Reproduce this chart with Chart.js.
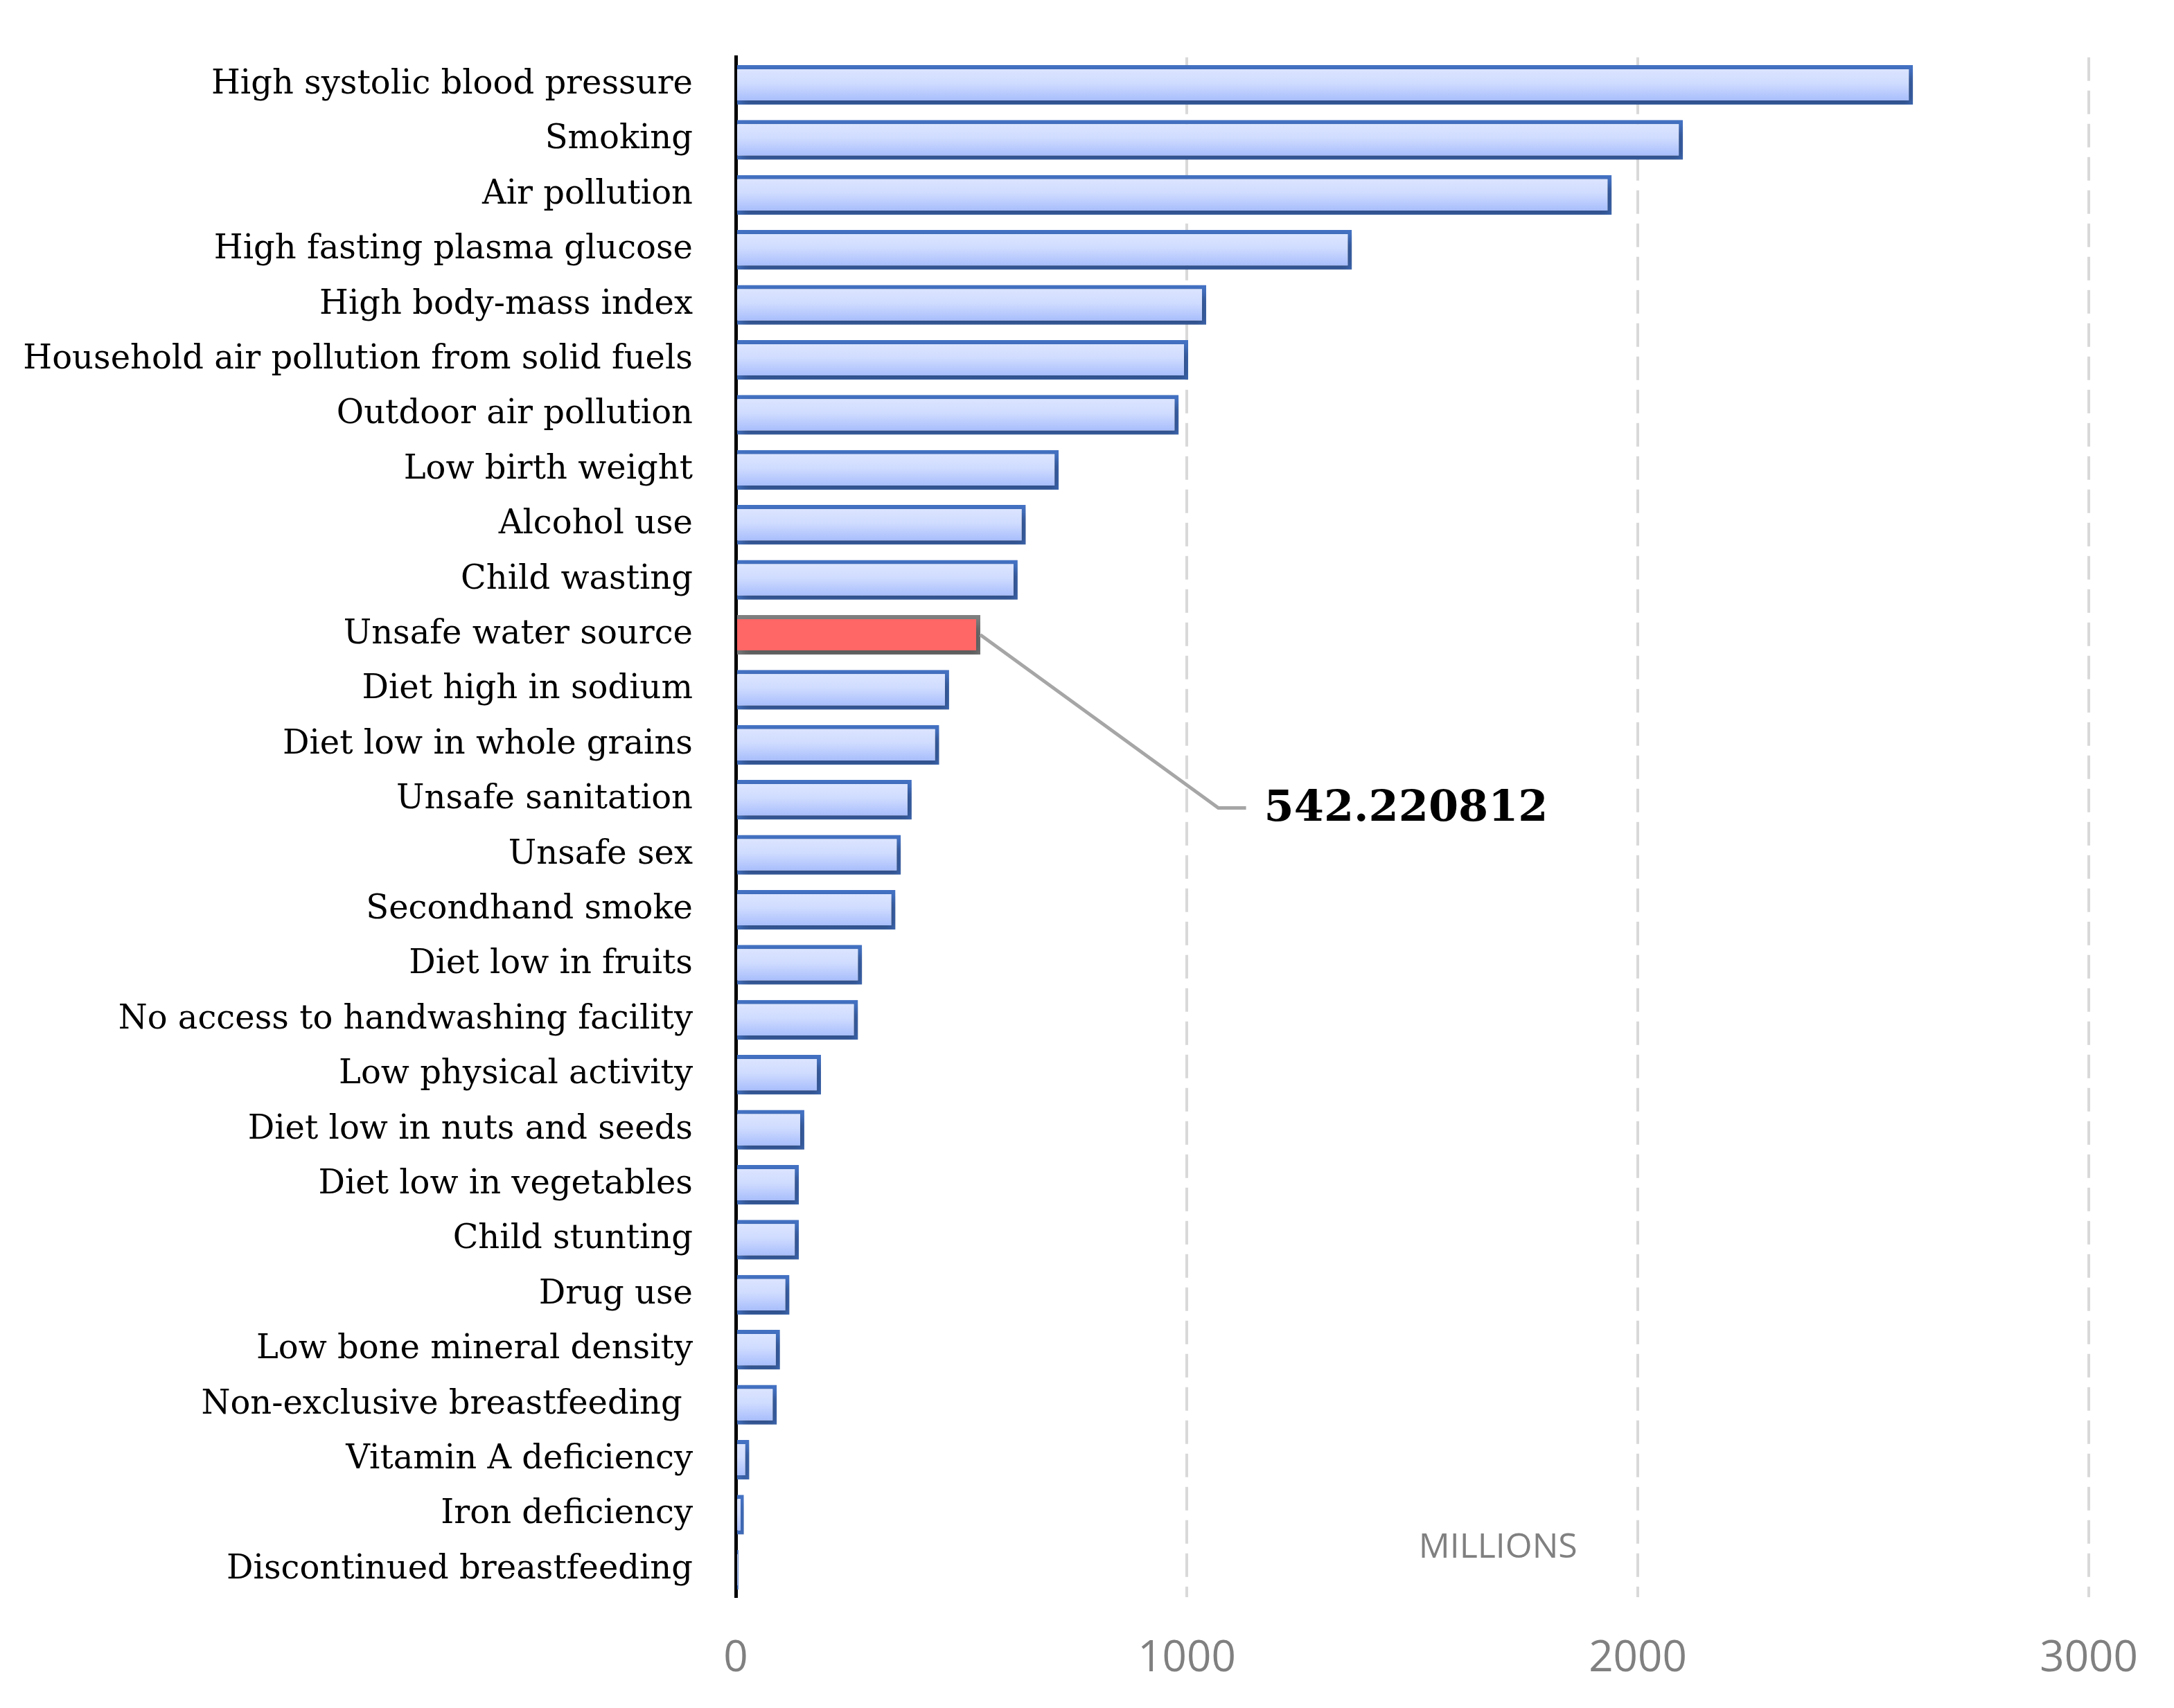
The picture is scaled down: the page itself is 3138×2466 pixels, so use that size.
<!DOCTYPE html>
<html>
<head>
<meta charset="utf-8">
<script src="https://cdn.jsdelivr.net/npm/chart.js@4/dist/chart.umd.min.js"></script>
<style>
  html, body { margin: 0; padding: 0; background: #fff; }
  #wrap { width: 3138px; height: 2466px; }
</style>
</head>
<body>
<div id="wrap"><canvas id="chart"></canvas></div>
<script>
// --- DATA ---
const riskFactors = [
  'High systolic blood pressure', 'Smoking', 'Air pollution', 'High fasting plasma glucose',
  'High body-mass index', 'Household air pollution from solid fuels', 'Outdoor air pollution',
  'Low birth weight', 'Alcohol use', 'Child wasting', 'Unsafe water source', 'Diet high in sodium',
  'Diet low in whole grains', 'Unsafe sanitation', 'Unsafe sex', 'Secondhand smoke',
  'Diet low in fruits', 'No access to handwashing facility', 'Low physical activity',
  'Diet low in nuts and seeds', 'Diet low in vegetables', 'Child stunting', 'Drug use',
  'Low bone mineral density', 'Non-exclusive breastfeeding ', 'Vitamin A deficiency',
  'Iron deficiency', 'Discontinued breastfeeding'
];
const deaths = [
  2610, 2100, 1942, 1366, 1043, 1003, 982, 716, 643, 625, 542.220812, 473,
  451, 390, 366, 354, 280, 271, 189, 152, 140, 140, 119, 98, 91, 30, 18, 6
];
const xTicks = [0, 1000, 2000, 3000];
const highlightIndex = 10;
const highlightText = '542.220812';
const unitText = 'MILLIONS';

// --- PLUGINS ---
const shadowPlugin = {
  id: 'barShadow',
  beforeDatasetDraw(chart) {
    const ctx = chart.ctx;
    ctx.save();
    ctx.shadowColor = 'rgba(0,0,0,0.35)';
    ctx.shadowBlur = 14;
    ctx.shadowOffsetX = 6;
    ctx.shadowOffsetY = 8;
  },
  afterDatasetDraw(chart) {
    chart.ctx.restore();
  }
};

const calloutPlugin = {
  id: 'callout',
  afterDraw(chart) {
    const ctx = chart.ctx;
    const x = chart.scales.x;
    const y = chart.scales.y;
    const bx = x.getPixelForValue(deaths[highlightIndex]);
    const by = y.getPixelForValue(highlightIndex);
    const ex = x.getPixelForValue(1070);
    const ey = y.getPixelForValue(13.15);
    ctx.save();
    ctx.strokeStyle = '#a6a6a6';
    ctx.lineWidth = 5;
    ctx.beginPath();
    ctx.moveTo(bx, by);
    ctx.lineTo(ex, ey);
    ctx.lineTo(ex + 40, ey);
    ctx.stroke();
    ctx.fillStyle = '#000';
    ctx.font = 'bold 62px "DejaVu Serif", "Liberation Serif", serif';
    ctx.textBaseline = 'middle';
    ctx.fillText(highlightText, ex + 66, ey + 2);
    // unit label
    ctx.fillStyle = '#808080';
    ctx.font = '50px "Open Sans", sans-serif';
    ctx.textAlign = 'center';
    ctx.fillText(unitText, x.getPixelForValue(1690), y.getPixelForValue(26.6));
    ctx.restore();
  }
};

function barFill(context) {
  const chart = context.chart;
  if (context.dataIndex === highlightIndex) return '#ff6666';
  const y = chart.scales.y;
  if (!chart.chartArea || !y) return '#c6d4fd';
  const c = y.getPixelForValue(context.dataIndex);
  const h = y.getPixelForValue(1) - y.getPixelForValue(0);
  const g = chart.ctx.createLinearGradient(0, c - h * 0.36, 0, c + h * 0.36);
  g.addColorStop(0, '#dfe7ff');
  g.addColorStop(0.45, '#d0dcff');
  g.addColorStop(1, '#9fb7fb');
  return g;
}

new Chart(document.getElementById('chart'), {
  type: 'bar',
  data: {
    labels: riskFactors,
    datasets: [{
      data: deaths,
      backgroundColor: barFill,
      borderColor: riskFactors.map((_, i) => i === highlightIndex ? '#808080' : '#4472c4'),
      borderWidth: 6,
      borderSkipped: 'start',
      categoryPercentage: 0.72,
      barPercentage: 1
    }]
  },
  options: {
    indexAxis: 'y',
    responsive: true,
    maintainAspectRatio: false,
    devicePixelRatio: 1,
    animation: false,
    layout: { padding: { top: 10, right: 66, bottom: 0, left: 20 } },
    plugins: {
      legend: { display: false },
      tooltip: { enabled: false }
    },
    scales: {
      x: {
        min: 0,
        max: 3000,
        afterBuildTicks(scale) { scale.ticks = xTicks.map(v => ({ value: v })); },
        afterFit(scale) { scale.height = 160; },
        grid: { color: '#d9d9d9', lineWidth: 4, drawTicks: false },
        border: { display: false, dash: [34, 14] },
        ticks: {
          color: '#808080',
          padding: 52,
          callback: (v) => String(v),
          font: { family: '"Open Sans", sans-serif', size: 62 }
        }
      },
      y: {
        grid: { display: false },
        border: { color: '#000', width: 5 },
        afterFit(scale) { scale.width = 1042; },
        ticks: {
          color: '#000',
          padding: 54,
          autoSkip: false,
          font: { family: '"DejaVu Serif", "Liberation Serif", serif', size: 48 }
        }
      }
    }
  },
  plugins: [shadowPlugin, calloutPlugin]
});
</script>
</body>
</html>
